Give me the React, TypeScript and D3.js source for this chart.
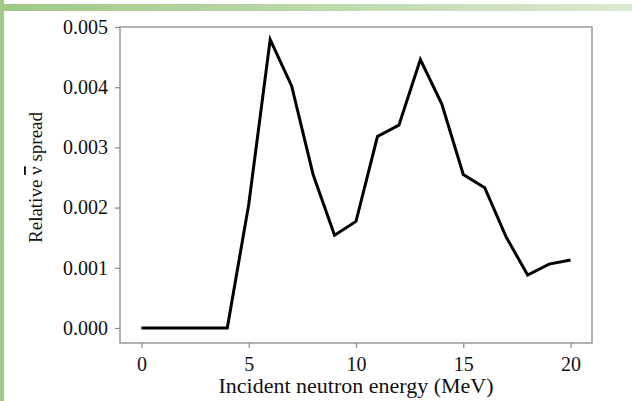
import React, { useRef, useEffect } from "react";
import * as d3 from "d3";

const energy = [0, 1, 2, 3, 4, 5, 6, 7, 8, 9, 10, 11, 12, 13, 14, 15, 16, 17, 18, 19, 20];
const spread = [
  0, 0, 0, 0, 0, 0.00205, 0.00479, 0.00402, 0.00255, 0.00154, 0.00177,
  0.00318, 0.00337, 0.00446, 0.00372, 0.00255, 0.00233, 0.00151, 0.00088,
  0.00106, 0.00113,
];
const xTicks = [0, 5, 10, 15, 20];
const yTicks = [0, 0.001, 0.002, 0.003, 0.004, 0.005];

const W = 632;
const H = 401;

const App = () => {
  const ref = useRef<SVGSVGElement>(null);

  useEffect(() => {
    const svg = d3.select(ref.current);
    svg.selectAll("*").remove();

    const margin = { top: 27, right: 40, bottom: 58, left: 120 };
    const width = W - margin.left - margin.right,
      height = H - margin.top - margin.bottom;

    // green frame of the slide
    const grad = svg
      .append("defs")
      .append("linearGradient")
      .attr("id", "band")
      .attr("x1", "0%")
      .attr("x2", "100%");
    grad.append("stop").attr("offset", "0%").attr("stop-color", "#9fc886");
    grad.append("stop").attr("offset", "100%").attr("stop-color", "#dbe9d2");
    svg.append("rect").attr("width", W).attr("height", H).attr("fill", "#fff");
    svg.append("rect").attr("x", 0).attr("y", 4).attr("width", W).attr("height", 7).attr("fill", "url(#band)");
    svg.append("rect").attr("x", 0).attr("y", 0).attr("width", 4).attr("height", H).attr("fill", "#a0c889");

    const x = d3.scaleLinear().domain([-1, 21]).range([0, width]);
    const y = d3.scaleLinear().domain([-0.00025, 0.005]).range([height, 0]);

    const chart = svg
      .append("g")
      .attr("transform", `translate(${margin.left},${margin.top})`);

    const font = "'Liberation Serif', 'Times New Roman', serif";

    chart
      .append("rect")
      .attr("width", width)
      .attr("height", height)
      .attr("fill", "none")
      .attr("stroke", "#888")
      .attr("stroke-width", 1.3);

    const line = d3
      .line<number>()
      .x((d, i) => x(energy[i]))
      .y((d) => y(d));

    chart
      .append("path")
      .datum(spread)
      .attr("fill", "none")
      .attr("stroke", "#000")
      .attr("stroke-width", 3)
      .attr("stroke-linejoin", "miter")
      .attr("d", line);

    const xAxis = chart
      .append("g")
      .attr("transform", `translate(0,${height})`)
      .call(d3.axisBottom(x).tickValues(xTicks).tickSize(5).tickPadding(9).tickFormat(d3.format("d")));
    const yAxis = chart
      .append("g")
      .call(d3.axisLeft(y).tickValues(yTicks).tickSize(5).tickPadding(7).tickFormat(d3.format(".3f")));

    [xAxis, yAxis].forEach((a) => {
      a.select(".domain").remove();
      a.selectAll("line").attr("stroke", "#888").attr("stroke-width", 1.2);
      a.selectAll("text")
        .attr("fill", "#111")
        .style("font-family", font)
        .style("font-size", "20px");
    });

    svg
      .append("text")
      .attr("x", margin.left + x(10))
      .attr("y", 393)
      .attr("text-anchor", "middle")
      .style("font-family", font)
      .style("font-size", "22px")
      .attr("fill", "#111")
      .text("Incident neutron energy (MeV)");

    const yl = svg
      .append("text")
      .attr("transform", `translate(42,${margin.top + y(0.0025)}) rotate(-90)`)
      .attr("text-anchor", "middle")
      .style("font-family", font)
      .style("font-size", "19px")
      .attr("fill", "#111");
    yl.append("tspan").text("Relative ");
    yl.append("tspan").style("text-decoration", "overline").text("ν");
    yl.append("tspan").text(" spread");
  }, []);

  return (
    <svg
      ref={ref}
      width={W}
      height={H}
      style={{ position: "absolute", left: 0, top: 0 }}
    />
  );
};

export default App;
